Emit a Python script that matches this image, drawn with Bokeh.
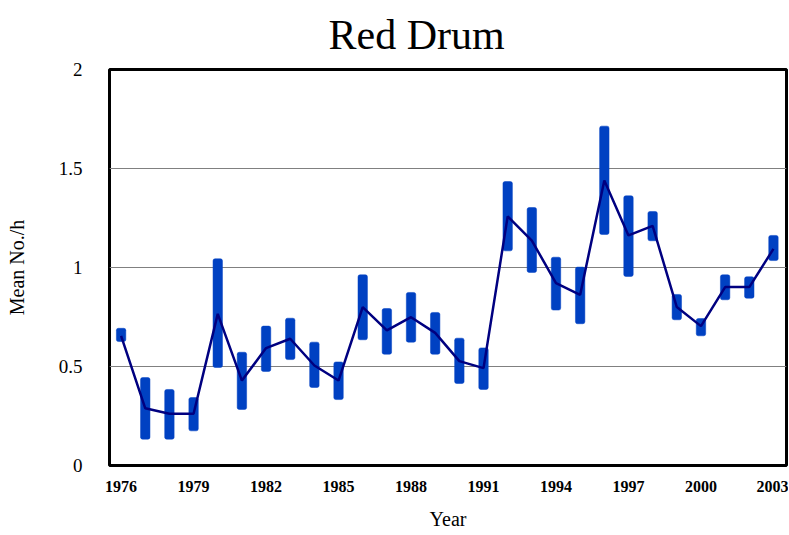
from bokeh.plotting import figure
from bokeh.models import FixedTicker, Range1d, Title
from bokeh.embed import file_html
from bokeh.resources import INLINE

years = list(range(1976, 2004))
mean = [0.655, 0.289, 0.261, 0.261, 0.766, 0.429, 0.593, 0.640, 0.505, 0.429,
        0.800, 0.682, 0.749, 0.670, 0.527, 0.492, 1.258, 1.136, 0.921, 0.862,
        1.439, 1.162, 1.210, 0.800, 0.704, 0.901, 0.901, 1.094]
upper = [0.693, 0.444, 0.384, 0.343, 1.044, 0.572, 0.704, 0.744, 0.623, 0.523,
         0.963, 0.793, 0.874, 0.773, 0.643, 0.594, 1.434, 1.303, 1.052, 1.002,
         1.714, 1.362, 1.283, 0.864, 0.742, 0.963, 0.953, 1.162]
lower = [0.626, 0.133, 0.133, 0.175, 0.495, 0.283, 0.475, 0.535, 0.394, 0.333,
         0.635, 0.562, 0.623, 0.562, 0.414, 0.384, 1.084, 0.975, 0.785, 0.716,
         1.167, 0.955, 1.135, 0.736, 0.655, 0.837, 0.845, 1.035]
x_ticks = [1976, 1979, 1982, 1985, 1988, 1991, 1994, 1997, 2000, 2003]
y_ticks = [0, 0.5, 1, 1.5, 2]
y_tick_labels = ["0", "0.5", "1", "1.5", "2"]
title_text = "Red Drum"

SERIF = "Liberation Serif"

p = figure(width=788, height=533, output_backend="svg", toolbar_location=None,
           x_range=Range1d(1975.52, 2003.54), y_range=Range1d(0, 2),
           frame_width=677, frame_height=396,
           min_border_left=109, min_border_right=2, min_border_top=69,
           min_border_bottom=68, title=None)

t = Title(text=title_text, text_font=SERIF, text_font_size="42px",
          text_font_style="normal", text_color="black",
          align="left", offset=219, standoff=19, vertical_align="top")
p.add_layout(t, "above")

p.vbar(x=years, bottom=lower, top=upper, width=0.39, fill_color="#0041C2",
       line_color="#0041C2", line_width=0.5, border_radius=2)
p.line(x=years, y=mean, line_color="#000080", line_width=2.5)

p.outline_line_color = "black"
p.outline_line_width = 3
p.background_fill_color = "white"
p.border_fill_color = "white"

p.xgrid.visible = False
p.ygrid.ticker = FixedTicker(ticks=y_ticks)
p.ygrid.grid_line_color = "#808080"
p.ygrid.grid_line_width = 1

for ax in (p.xaxis[0], p.yaxis[0]):
    ax.axis_line_color = None
    ax.major_tick_line_color = None
    ax.minor_tick_line_color = None
    ax.axis_label_text_font = SERIF
    ax.axis_label_text_font_style = "normal"
    ax.major_label_text_font = SERIF
    ax.major_label_text_color = "black"
    ax.axis_label_text_color = "black"

p.xaxis.ticker = FixedTicker(ticks=x_ticks)
p.xaxis.major_label_text_font_size = "16px"
p.xaxis.major_label_text_font_style = "bold"
p.xaxis.major_label_standoff = 9
p.xaxis.axis_label = "Year"
p.xaxis.axis_label_text_font_size = "20px"
p.xaxis.axis_label_standoff = 13

p.yaxis.ticker = FixedTicker(ticks=y_ticks)
p.yaxis.major_label_overrides = {v: s for v, s in zip(y_ticks, y_tick_labels)}
p.yaxis.major_label_text_font_size = "19px"
p.yaxis.major_label_standoff = 21
p.yaxis.axis_label = "Mean No./h"
p.yaxis.axis_label_text_font_size = "20px"
p.yaxis.axis_label_standoff = 28

open("out.html", "w").write(file_html(p, INLINE))
